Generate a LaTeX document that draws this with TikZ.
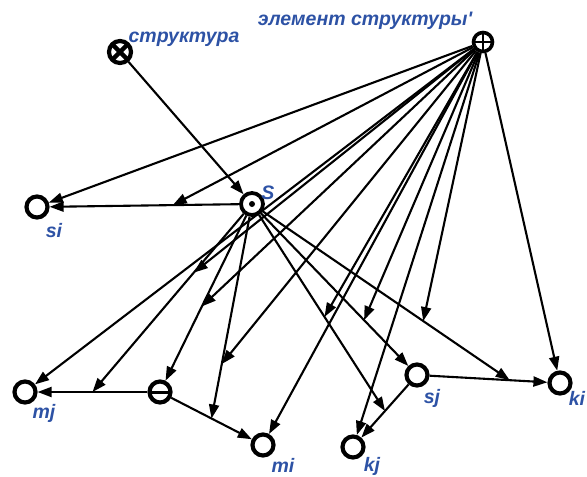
\documentclass[tikz,border=0pt]{standalone}
\usepackage{fontspec}
\setmainfont{Liberation Sans}
\newfontfamily\lblfont{Liberation Sans}
\usetikzlibrary{arrows.meta}
\definecolor{lblue}{RGB}{45,82,165}
\begin{document}
\begin{tikzpicture}[x=1pt,y=-1pt,
  vtx/.style={circle,draw,line width=4.2pt,minimum size=21pt,inner sep=0pt,fill=white},
  plusv/.style={vtx,line width=3.6pt,minimum size=19pt,path picture={\draw[line width=2.8pt]
     (path picture bounding box.north) -- (path picture bounding box.south)
     (path picture bounding box.west) -- (path picture bounding box.east);}},
  crossv/.style={vtx,minimum size=22pt,path picture={\draw[line width=4.5pt]
     (path picture bounding box.north west) -- (path picture bounding box.south east)
     (path picture bounding box.south west) -- (path picture bounding box.north east);}},
  dotv/.style={vtx,minimum size=22pt,line width=3.8pt,path picture={\fill[black]
     (path picture bounding box.center) circle (3pt);}},
  minusv/.style={vtx,path picture={\draw[line width=3pt]
     (path picture bounding box.west) -- (path picture bounding box.east);}},
  arr/.style={line width=2.1pt,-{Triangle[length=14pt,width=10pt]}},
  lbl/.style={text=lblue,font=\lblfont\fontsize{19.5}{19.5}\selectfont\bfseries\itshape,inner sep=0pt,anchor=base}]
\useasboundingbox (0,0) rectangle (587,477);
% nodes
\node[crossv] (struct) at (120,52) {};
\node[plusv] (elem) at (483,42) {};
\node[dotv] (S) at (252,204) {};
\node[vtx] (si) at (37,207) {};
\node[vtx] (mj) at (25,392) {};
\node[minusv] (minus) at (160,392) {};
\node[vtx] (mi) at (263,445) {};
\node[vtx] (kj) at (353,447) {};
\node[vtx] (sj) at (417,375) {};
\node[vtx] (ki) at (560,383) {};
% labels
\node[lbl] (lstruct) at (184,42) {структура};
\node[lbl] (lelem) at (365,25) {элемент структуры'};
\node[lbl] (lS) at (268,199) {S};
\node[lbl] (lsi) at (54,237) {si};
\node[lbl] (lmj) at (44,418) {mj};
\node[lbl] (lmi) at (283,472) {mi};
\node[lbl] (lkj) at (372,471) {kj};
\node[lbl] (lsj) at (432,403) {sj};
\node[lbl] (lki) at (577,405) {ki};
% points on arcs
\path (minus) -- (mj) coordinate[pos=.5] (c1);
\path (minus) -- (mi) coordinate[pos=.5] (c2);
\path (sj) -- (kj) coordinate[pos=.5] (c3);
\path (sj) -- (ki) coordinate[pos=.68] (c4);
\path (S) -- (si) coordinate[pos=.35] (d1);
\path (S) -- (c1) coordinate[pos=.33] (d2);
\path (S) -- (minus) coordinate[pos=.55] (d3);
\path (S) -- (c2) coordinate[pos=.73] (d4);
\path (S) -- (c3) coordinate[pos=.52] (d5);
\path (S) -- (sj) coordinate[pos=.7] (d6);
\path (S) -- (c4) coordinate[pos=.65] (d7);
% arcs between nodes
\draw[arr] (struct) -- (S);
\draw[arr] (S) -- (si);
\draw[arr] (minus) -- (mj);
\draw[arr] (minus) -- (mi);
\draw[arr] (sj) -- (kj);
\draw[arr] (sj) -- (ki);
\draw[arr] (S) -- (minus);
\draw[arr] (S) -- (sj);
\draw[arr] (S) -- (c1);
\draw[arr] (S) -- (c2);
\draw[arr] (S) -- (c3);
\draw[arr] (S) -- (c4);
% arcs from elem
\draw[arr] (elem) -- (si);
\draw[arr] (elem) -- (mj);
\draw[arr] (elem) -- (mi);
\draw[arr] (elem) -- (kj);
\draw[arr] (elem) -- (ki);
\draw[arr] (elem) -- (d1);
\draw[arr] (elem) -- (d2);
\draw[arr] (elem) -- (d3);
\draw[arr] (elem) -- (d4);
\draw[arr] (elem) -- (d5);
\draw[arr] (elem) -- (d6);
\draw[arr] (elem) -- (d7);
\end{tikzpicture}
\end{document}
